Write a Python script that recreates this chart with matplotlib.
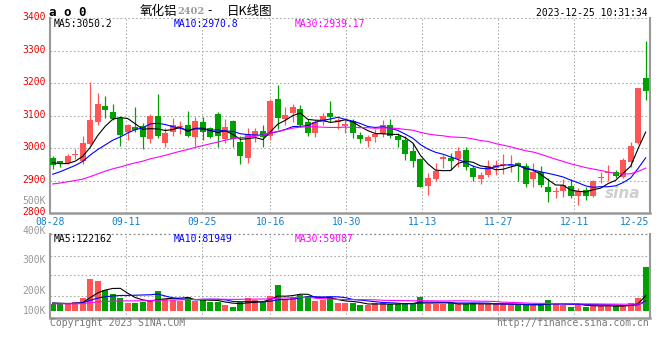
import numpy as np
import pandas as pd
import matplotlib
matplotlib.use('Agg')
import matplotlib.pyplot as plt
from matplotlib.transforms import ScaledTranslation

# AO2402 daily bars, 2023-08-28 .. 2023-12-25 (80 sessions)
opens = [2971, 2961, 2954, 2978, 2960, 3013, 3082, 3130, 3111, 3092,
         3051, 3066, 3068, 3027, 3099, 3017, 3049, 3064, 3070, 3034,
         3080, 3061, 3105, 3028, 3085, 3020, 2969, 3038, 3053, 3038,
         3150, 3090, 3107, 3120, 3080, 3048, 3082, 3109, 3082, 3069,
         3085, 3041, 3022, 3033, 3044, 3072, 3038, 3025, 2990, 2967,
         2884, 2906, 2966, 2971, 2966, 2995, 2938, 2906, 2918, 2938,
         2948, 2944, 2954, 2946, 2905, 2928, 2882, 2864, 2867, 2884,
         2853, 2872, 2854, 2909, 2923, 2928, 2913, 2959, 3015, 3215]
highs = [2976, 2962, 2982, 2997, 3038, 3203, 3171, 3161, 3136, 3099,
         3074, 3126, 3077, 3105, 3167, 3061, 3094, 3085, 3115, 3095,
         3095, 3064, 3110, 3089, 3088, 3036, 3061, 3061, 3072, 3150,
         3194, 3126, 3136, 3133, 3089, 3087, 3109, 3146, 3094, 3092,
         3089, 3051, 3041, 3058, 3087, 3089, 3046, 3038, 3015, 2969,
         2925, 2954, 2980, 2984, 3005, 3003, 2948, 2928, 2964, 2964,
         2982, 2979, 2957, 2956, 2954, 2946, 2908, 2882, 2905, 2905,
         2877, 2882, 2903, 2928, 2949, 2932, 2969, 3020, 3186, 3330]
lows = [2935, 2941, 2952, 2966, 2952, 3010, 3072, 3094, 3087, 3008,
        3025, 3050, 2999, 3015, 3031, 3003, 3038, 3044, 3034, 3008,
        3025, 3031, 3005, 3017, 3005, 2952, 2956, 3020, 3005, 3025,
        3058, 3072, 3082, 3066, 3036, 3033, 3072, 3082, 3058, 3048,
        3031, 3015, 3005, 3020, 3034, 3031, 3003, 2964, 2941, 2880,
        2857, 2898, 2938, 2933, 2943, 2933, 2898, 2890, 2913, 2918,
        2920, 2928, 2898, 2882, 2880, 2880, 2836, 2846, 2851, 2846,
        2826, 2840, 2851, 2892, 2900, 2908, 2908, 2943, 3013, 3149]
closes = [2949, 2954, 2976, 2981, 3015, 3087, 3136, 3118, 3089, 3041,
          3071, 3056, 3033, 3099, 3036, 3048, 3071, 3066, 3036, 3084,
          3051, 3033, 3037, 3064, 3027, 2976, 3043, 3053, 3034, 3146,
          3094, 3102, 3126, 3072, 3048, 3082, 3099, 3095, 3087, 3075,
          3046, 3028, 3033, 3043, 3072, 3038, 3025, 2982, 2961, 2882,
          2908, 2930, 2974, 2962, 2992, 2943, 2913, 2918, 2946, 2949,
          2950, 2949, 2946, 2890, 2928, 2887, 2864, 2866, 2887, 2854,
          2867, 2854, 2900, 2911, 2925, 2916, 2964, 3007, 3184, 3177]
volumes = [56300, 52300, 53800, 72400, 102100, 257300, 241200, 168800, 136700, 106900,
           61900, 66700, 74800, 88400, 163200, 96500, 88400, 80400, 110100, 80400,
           88400, 74800, 69900, 48200, 34600, 69900, 106900, 88400, 74800, 123000,
           211500, 96500, 115000, 128600, 120600, 80400, 88400, 110100, 61900, 61900,
           61900, 48200, 48200, 61900, 61900, 56300, 56300, 61900, 66700, 115000,
           56300, 56300, 56300, 61900, 53900, 56300, 61900, 56300, 56300, 56300,
           56300, 48200, 48200, 48200, 48200, 56300, 88400, 56300, 48200, 34600,
           56300, 34600, 40200, 40200, 40200, 40200, 40200, 66700, 106900, 356200]

# the 29 sessions before 08-28, only there so the moving averages start
# where the chart's do (estimated from the MA curves at the left edge)
pre_closes = [2862, 2858, 2871, 2880, 2866, 2874, 2869, 2877, 2870, 2871,
              2875, 2882, 2878, 2886, 2880, 2874, 2883, 2879, 2885, 2880,
              2876, 2880, 2885, 2890, 2892, 2968, 2975, 2945, 2940]
pre_volumes = [55200, 60300, 58100, 52400, 49800, 61500, 57300, 54600, 59900, 53100,
               56200, 62400, 58700, 51900, 55300, 60100, 57800, 50600, 54900, 58800,
               61200, 56400, 52700, 58300, 63100, 66200, 64800, 69500, 67400]

date_labels = ['08-28', '09-11', '09-25', '10-16', '10-30', '11-13', '11-27', '12-11', '12-25']
date_index = [0, 10, 20, 29, 39, 49, 59, 69, 79]
price_ticks = [2800, 2900, 3000, 3100, 3200, 3300, 3400]
vol_labels = ['500K', '400K', '300K', '200K', '100K']
price_ma_text = ['MA5:3050.2', 'MA10:2970.8', 'MA30:2939.17']
vol_ma_text = ['MA5:122162', 'MA10:81949', 'MA30:59087']
ma_windows = [5, 10, 30]
ma_colors = ['black', '#0000ff', '#ff00ff']

W, H = 660, 360
UP, DOWN = '#ff5555', '#00a000'
GRID = '#aaaaaa'
FRAME = '#999999'
DOTS = (0, (1.5, 2))
MONO = 'DejaVu Sans Mono'
CJK = ['Noto Sans CJK SC', 'DejaVu Sans']

fig = plt.figure(figsize=(W / 100, H / 100), dpi=100)
fig.patch.set_facecolor('white')


def px_axes(x0, y0, x1, y1):
    # box in pixels, origin top-left like the screenshot
    return fig.add_axes([x0 / W, 1 - y1 / H, (x1 - x0) / W, (y1 - y0) / H])


def px_text(x, y, s, **kw):
    kw.setdefault('family', MONO)
    kw.setdefault('fontsize', 7)
    kw.setdefault('va', 'center')
    return fig.text(x / W, 1 - y / H, s, **kw)


n = len(closes)
x = np.arange(n)
x_left, x_right = -0.36, n - 0.49
grid_step = 1.0125  # sina's grid walks a slightly wider day step than the candles
grid_x = [x_left + grid_step * d for d in date_index[1:-1]]
tick_x = [x_left] + grid_x + [x_right]

o, h, l, c = map(np.array, (opens, highs, lows, closes))
colors = np.where(c >= o, UP, DOWN)

close_all = pd.Series(pre_closes + closes, dtype=float)
vol_all = pd.Series(pre_volumes + volumes, dtype=float)
k = len(pre_closes)
price_ma = [close_all.rolling(w).mean().values[k:] for w in ma_windows]
vol_ma = [vol_all.rolling(w).mean().values[k:] for w in ma_windows]

# ---- price panel
ax = px_axes(50, 18, 649.5, 213.3)
ax.set_xlim(x_left, x_right)
ax.set_ylim(price_ticks[0], price_ticks[-1])
for gx in grid_x:
    ax.axvline(gx, color=GRID, lw=0.72, ls=DOTS, zorder=0)
for p in price_ticks[1:]:
    ax.axhline(p, color=GRID, lw=0.8, ls=DOTS, zorder=0, clip_on=False)

ax.vlines(x, l, h, colors=colors, lw=0.9, zorder=2)
ax.bar(x, np.maximum(np.abs(c - o), 3), bottom=np.minimum(o, c), width=0.8,
       color=colors, lw=0, zorder=3)
for ma, col in zip(price_ma, ma_colors):
    ax.plot(x, ma, color=col, lw=0.8, zorder=4)

ax.set_yticks(price_ticks)
ax.set_yticklabels([str(p) for p in price_ticks], family=MONO, fontsize=7, color='#ee0000')
ax.tick_params(axis='y', length=0, pad=2.9)
for lab in ax.get_yticklabels():
    lab.set_transform(lab.get_transform() + ScaledTranslation(0, 0.02, fig.dpi_scale_trans))
ax.set_xticks(tick_x)
ax.set_xticklabels(date_labels, family=MONO, fontsize=7, color='#1080d0')
ax.tick_params(axis='x', length=0, pad=2.5)
ax.get_xticklabels()[-1].set_ha('right')

ax.spines['top'].set_visible(False)
for s, lw in (('left', 1.5), ('right', 1.5), ('bottom', 1.8)):
    ax.spines[s].set_color(FRAME)
    ax.spines[s].set_linewidth(lw)

ax.text(0.985, 0.1, 'sina', transform=ax.transAxes, ha='right', va='center',
        fontsize=11, fontstyle='italic', fontweight='bold', color='#cfcfcf', zorder=1)

# ---- volume panel
axv = px_axes(50, 234.3, 649.5, 318.3)
axv.set_xlim(x_left, x_right)
vol_px = 8040  # volume per screen pixel
axv.set_ylim(-7.3 * vol_px, 76.7 * vol_px)
for gx in grid_x:
    axv.axvline(gx, color=GRID, lw=0.72, ls=DOTS, zorder=0)
for f in (0.27, 0.51, 0.745):
    axv.plot([0, 1], [f, f], transform=axv.transAxes, color=GRID, lw=0.8, ls=DOTS, zorder=0)
axv.plot([0, 1], [1, 1], transform=axv.transAxes, color='#888888', lw=0.9, ls=DOTS,
         clip_on=False, zorder=0)

axv.bar(x, volumes, width=0.8, color=colors, lw=0, zorder=2)
for ma, col in zip(vol_ma, ma_colors):
    axv.plot(x, ma, color=col, lw=0.8, zorder=3)

axv.set_xticks([])
axv.set_yticks([])
axv.spines['top'].set_visible(False)
for s, lw in (('left', 1.5), ('right', 1.5), ('bottom', 1.8)):
    axv.spines[s].set_color(FRAME)
    axv.spines[s].set_linewidth(lw)

for lab, yy in zip(vol_labels, (200.7, 230.7, 260, 290.7, 310.7)):
    px_text(46, yy, lab, ha='right', color='#999999')

# ---- header and legends
px_text(49, 12, 'a o 0', fontsize=9, fontweight='bold', color='black')
px_text(140, 11, '氧化铝', family=CJK, fontsize=9, color='black')
px_text(177, 11.5, '2402', family='DejaVu Serif', fontsize=7, fontweight='bold', color='#999999')
px_text(210, 11, '-', family=CJK, fontsize=9, color='black', ha='center')
px_text(227, 11, '日K线图', family=CJK, fontsize=9, color='black')
px_text(648, 12.5, '2023-12-25 10:31:34', ha='right', color='black')

for s, xx, col in zip(price_ma_text, (54, 174, 295), ma_colors):
    px_text(xx, 24, s, color=col)
for s, xx, col in zip(vol_ma_text, (54, 174, 295), ma_colors):
    px_text(xx, 238.5, s, color=col)

px_text(50, 323, 'Copyright 2023 SINA.COM', color='#777777')
px_text(649, 323, 'http://finance.sina.com.cn', ha='right', color='#777777')

fig.savefig('out.png', dpi=100)
